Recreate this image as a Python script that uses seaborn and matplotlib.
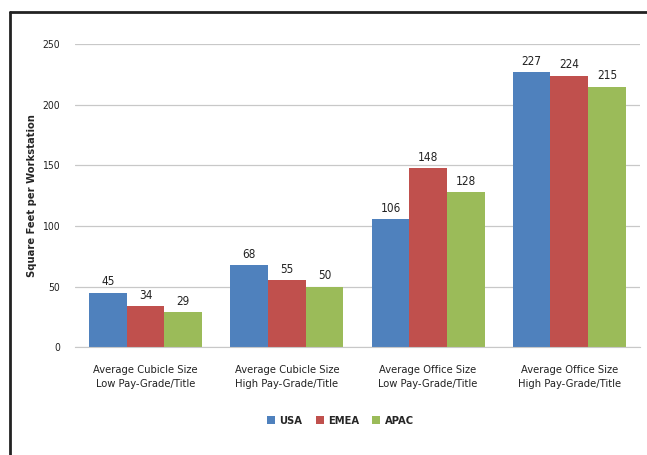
import pandas as pd
import seaborn as sns
import matplotlib.pyplot as plt
from matplotlib.lines import Line2D

# data
categories = ['Average Cubicle Size\nLow Pay-Grade/Title',
              'Average Cubicle Size\nHigh Pay-Grade/Title',
              'Average Office Size\nLow Pay-Grade/Title',
              'Average Office Size\nHigh Pay-Grade/Title']
regions = ['USA', 'EMEA', 'APAC']
usa = [45, 68, 106, 227]
emea = [34, 55, 148, 224]
apac = [29, 50, 128, 215]

colors = {'USA': '#4F81BD', 'EMEA': '#C0504D', 'APAC': '#9BBB59'}

df = pd.DataFrame({'category': categories * 3,
                   'region': ['USA'] * 4 + ['EMEA'] * 4 + ['APAC'] * 4,
                   'sqft': usa + emea + apac})

sns.set_style('white')
plt.rcParams['font.family'] = ['DejaVu Sans']
plt.rcParams['font.stretch'] = 'condensed'

fig = plt.figure(figsize=(6.47, 4.55), dpi=100)
ax = fig.add_axes([0.116, 0.237, 0.873, 0.666])

sns.barplot(data=df, x='category', y='sqft', hue='region', hue_order=regions,
            palette=colors, width=0.8, saturation=1, ax=ax, linewidth=0)

for cont in ax.containers:
    ax.bar_label(cont, padding=3, fontsize=8.5, color='#222222')

ax.set_ylim(0, 250)
ax.set_yticks([0, 50, 100, 150, 200, 250])
ax.yaxis.grid(True, color='#c8c8c8', linewidth=0.9)
ax.set_axisbelow(True)
for s in ['top', 'right', 'left']:
    ax.spines[s].set_visible(False)
ax.spines['bottom'].set_color('#c8c8c8')
ax.tick_params(axis='y', labelsize=7.5, colors='#222222', pad=11, length=0)
ax.tick_params(axis='x', labelsize=8, colors='#222222', pad=13, length=0)
for t in ax.get_xticklabels():
    t.set_linespacing(1.5)
ax.set_xlabel('')
ax.set_ylabel('Square Feet per Workstation', fontsize=8, fontweight='bold', labelpad=4)

ax.legend(loc='upper center', bbox_to_anchor=(0.47, -0.195), ncol=3, frameon=False,
          handlelength=0.7, handleheight=0.7, handletextpad=0.4,
          columnspacing=1.2, prop={'weight': 'bold', 'size': 8})

# dark frame along top and left edge
fig.add_artist(Line2D([0.0155, 1.0], [0.974, 0.974], color='#222222', linewidth=2))
fig.add_artist(Line2D([0.0155, 0.0155], [0.0, 0.974], color='#222222', linewidth=2))

fig.savefig('out.png', dpi=100)
